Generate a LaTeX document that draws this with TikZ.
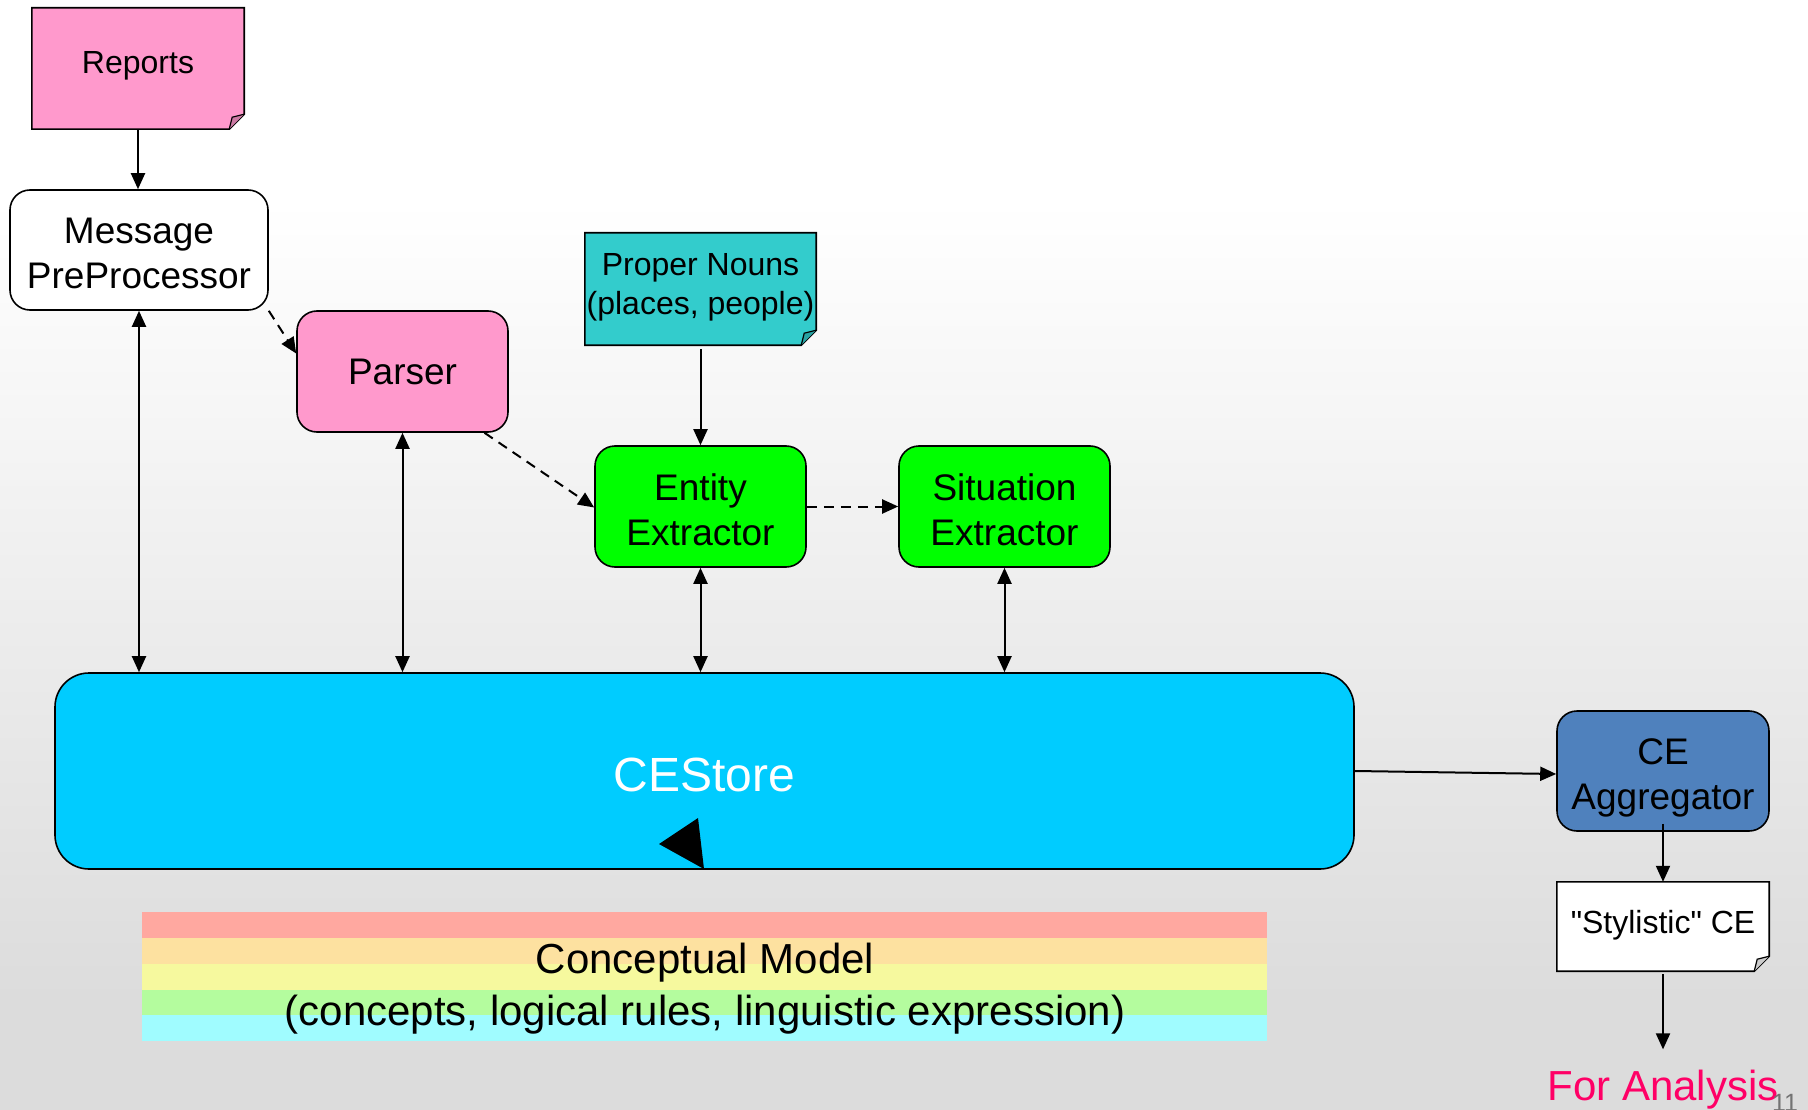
\documentclass[tikz,border=0pt]{standalone}
\usepackage{fontspec}
\setmainfont{Liberation Sans}
\newfontfamily\qfont{Liberation Sans}[Ligatures=ResetAll]
\usetikzlibrary{arrows.meta}
\pgfdeclarelayer{bg}
\pgfdeclarelayer{notes}
\pgfsetlayers{bg,notes,main}
\definecolor{pinkbox}{HTML}{FF99CC}
\definecolor{tealbox}{HTML}{33CCCC}
\definecolor{greenbox}{HTML}{00FF00}
\definecolor{storeblue}{HTML}{00CCFF}
\definecolor{aggblue}{HTML}{4F81BD}
\definecolor{bggray}{HTML}{DCDCDC}
\definecolor{rbA}{HTML}{FFA8A0}
\definecolor{rbB}{HTML}{FDE1A0}
\definecolor{rbC}{HTML}{F6F99E}
\definecolor{rbD}{HTML}{B4FC9E}
\definecolor{rbE}{HTML}{A0FCFF}
\definecolor{analysispink}{HTML}{FF0066}
\newcommand\notepath[2]{%
  \begin{pgfonlayer}{notes}
  \filldraw[line width=1.6pt, fill=#2] (#1.north west) -- (#1.north east)
    -- ([yshift=15pt]#1.south east) -- ([xshift=-15pt]#1.south east)
    -- (#1.south west) -- cycle;
  \filldraw[line width=1.2pt, fill=#2!80!black] ([xshift=-15pt]#1.south east)
    -- ([xshift=-12pt,yshift=12pt]#1.south east) -- ([yshift=15pt]#1.south east);
  \end{pgfonlayer}}
\begin{document}
\begin{tikzpicture}[x=1pt,y=-1pt,
  box/.style={draw, line width=1.6pt, rounded corners=20pt, align=center,
    inner sep=0pt, text height=77pt, text depth=0pt, font=\fontsize{37}{45}\selectfont},
  notebox/.style={inner sep=0pt, align=center, text depth=0pt, font=\fontsize{32}{39}\selectfont},
  arr/.style={line width=2pt, -{Triangle[length=16pt,width=14pt]}},
  darr/.style={line width=2pt, {Triangle[length=16pt,width=14pt]}-{Triangle[length=16pt,width=14pt]}},
  dsh/.style={arr, dash pattern=on 10pt off 7pt}
]
\useasboundingbox (0,0) rectangle (1808,1110);
\begin{pgfonlayer}{bg}
\fill[white] (0,0) rectangle (1808,200);
\shade[top color=white, bottom color=bggray] (0,200) rectangle (1808,1000);
\fill[bggray] (0,1000) rectangle (1808,1110);
\fill[rbA] (142,912) rectangle (1267,938);
\fill[rbB] (142,938) rectangle (1267,964);
\fill[rbC] (142,964) rectangle (1267,990);
\fill[rbD] (142,990) rectangle (1267,1015);
\fill[rbE] (142,1015) rectangle (1267,1041);
\end{pgfonlayer}

\node[align=center, font=\fontsize{42}{52}\selectfont] (cm) at (705,989)
  {Conceptual Model\\(concepts, logical rules, linguistic expression)};

% nodes
\node[notebox, minimum width=212pt, minimum height=121pt, text height=10pt] (reports) at (138,68.5) {Reports};
\notepath{reports}{pinkbox}
\node[box, fill=white, minimum width=258pt, minimum height=120pt] (mpp) at (139,250)
  {Message\\PreProcessor};
\node[box, fill=pinkbox, minimum width=211pt, minimum height=121pt, text height=26pt] (parser) at (402.5,371.5) {Parser};
\node[notebox, minimum width=231pt, minimum height=112pt, text height=51pt] (nouns) at (700.5,289)
  {Proper Nouns\\(places, people)};
\notepath{nouns}{tealbox}
\node[box, fill=greenbox, minimum width=211pt, minimum height=121pt] (entity) at (700.5,506.5)
  {Entity\\Extractor};
\node[box, fill=greenbox, minimum width=211pt, minimum height=121pt] (situation) at (1004.5,506.5)
  {Situation\\Extractor};
\node[box, fill=storeblue, rounded corners=34pt, minimum width=1299pt, minimum height=196pt,
  text=white, text height=40pt, font=\fontsize{48}{56}\selectfont] (cestore) at (704.5,771) {CEStore};
\fill (698,818) -- (659,844) -- (704,869) -- cycle;
\node[box, fill=aggblue, minimum width=212pt, minimum height=120pt] (agg) at (1663,771)
  {CE\\Aggregator};
\node[notebox, minimum width=212pt, minimum height=89pt, text height=14pt,
  font=\qfont\fontsize{32}{39}\selectfont] (styl) at (1663,926.5)
  {"Stylistic" CE};
\notepath{styl}{white}
\node[anchor=base, inner sep=0pt, text=analysispink, font=\fontsize{42}{50}\selectfont] (fa) at (1663,1100)
  {For Analysis};
\node[anchor=base, inner sep=0pt, text=black!55, font=\fontsize{25}{30}\selectfont] (pg) at (1785,1111) {11};

% connectors
\draw[arr] (reports.south) -- (reports.south |- mpp.north);
\draw[darr] (mpp.south) -- (mpp.south |- cestore.north);
\draw[darr] (parser.south) -- (parser.south |- cestore.north);
\draw[darr] (entity.south) -- (entity.south |- cestore.north);
\draw[darr] (situation.south) -- (situation.south |- cestore.north);
\draw[arr] ([yshift=-4pt]nouns.south) -- (entity.north);
\draw[dsh] (mpp.south east) -- ([yshift=18pt]parser.west);
\draw[dsh] ([xshift=82pt]parser.south) -- ([yshift=-1pt]entity.west);
\draw[dsh] (entity.east) -- (entity.east -| situation.west);
\draw[arr] (cestore.east) -- ([yshift=-3pt]agg.west);
\draw[arr] ([yshift=8pt]agg.south) -- (styl.north);
\draw[arr] ([yshift=-3pt]styl.south) -- ([yshift=20pt]fa.north);
\end{tikzpicture}
\end{document}
